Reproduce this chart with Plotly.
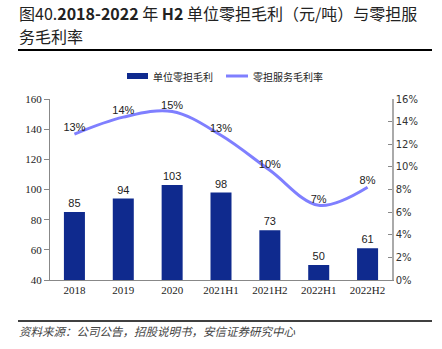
import plotly.graph_objects as go

categories = ["2018", "2019", "2020", "2021H1", "2021H2", "2022H1", "2022H2"]
gross_profit = [85, 94, 103, 98, 73, 50, 61]
margin_pct = [12.9, 14.4, 14.9, 12.8, 9.7, 6.6, 8.2]
margin_labels = ["13%", "14%", "15%", "13%", "10%", "7%", "8%"]
left_ticks = [40, 60, 80, 100, 120, 140, 160]
right_ticks = [0, 2, 4, 6, 8, 10, 12, 14, 16]

BAR = "#0F2A8E"
LINE = "#7F7FFF"
W, H = 442, 349
L, R, T, B = 50, 50, 99, 69
PW, PH = W - L - R, H - T - B

def px(x):
    return (x - L) / PW

def py(y):
    return (H - B - y) / PH

fig = go.Figure()
fig.add_trace(go.Bar(
    x=categories, y=gross_profit, name="单位零担毛利",
    marker=dict(color=BAR, line=dict(width=0)), width=0.43,
    text=[str(v) for v in gross_profit], textposition="outside",
    textfont=dict(family="Liberation Sans, Arial", size=11, color="#222"),
    cliponaxis=False,
))
fig.add_trace(go.Scatter(
    x=categories, y=margin_pct, name="零担服务毛利率", yaxis="y2",
    mode="lines+text", line=dict(color=LINE, width=3, shape="spline", smoothing=1.0),
    text=margin_labels, textposition="top center",
    textfont=dict(family="Liberation Sans, Arial", size=11, color="#222"),
    cliponaxis=False,
))

fig.update_layout(
    width=W, height=H, margin=dict(l=L, r=R, t=T, b=B),
    paper_bgcolor="white", plot_bgcolor="white",
    showlegend=False, bargap=0.57,
    xaxis=dict(
        showline=True, linecolor="#888", linewidth=1, ticks="", showgrid=False,
        tickfont=dict(family="Liberation Serif, Times New Roman", size=11, color="#222"),
    ),
    yaxis=dict(
        range=[40, 160], tickvals=left_ticks, showline=True, linecolor="#888", linewidth=1,
        ticks="outside", ticklen=5, tickcolor="#888", showgrid=False, zeroline=False,
        tickfont=dict(family="Liberation Serif, Times New Roman", size=11, color="#222"),
    ),
    yaxis2=dict(
        range=[0, 16], tickvals=right_ticks, ticktext=[f"{v}%" for v in right_ticks],
        overlaying="y", side="right", showline=True, linecolor="#aaa", linewidth=1.5,
        ticks="inside", ticklen=4, tickcolor="#888", showgrid=False, zeroline=False,
        tickfont=dict(family="DejaVu Sans, Verdana", size=10, color="#333"),
    ),
)

shapes = [
    dict(type="line", xref="paper", yref="paper", x0=px(18), x1=px(432), y0=py(50), y1=py(50),
         line=dict(color="black", width=2)),
    dict(type="line", xref="paper", yref="paper", x0=px(18), x1=px(432), y0=py(321), y1=py(321),
         line=dict(color="black", width=1.5)),
    dict(type="rect", xref="paper", yref="paper", x0=px(127), x1=px(148), y0=py(73), y1=py(79),
         fillcolor=BAR, line=dict(width=0)),
    dict(type="line", xref="paper", yref="paper", x0=px(226), x1=px(248), y0=py(76), y1=py(76),
         line=dict(color=LINE, width=3)),
]
fig.update_layout(shapes=shapes)

cjk = "Noto Sans CJK SC"
anns = [
    dict(x=px(17), y=py(13), xref="paper", yref="paper", xanchor="left", yanchor="middle",
         showarrow=False, font=dict(family=cjk, size=16, color="#222"),
         text="图40.<b>2018-2022</b> 年 <b>H2</b> 单位零担毛利（元/吨）与零担服"),
    dict(x=px(17), y=py(36), xref="paper", yref="paper", xanchor="left", yanchor="middle",
         showarrow=False, font=dict(family=cjk, size=16, color="#222"),
         text="务毛利率"),
    dict(x=px(151), y=py(76), xref="paper", yref="paper", xanchor="left", yanchor="middle",
         showarrow=False, font=dict(family=cjk, size=10, color="#222"), text="单位零担毛利"),
    dict(x=px(251), y=py(76), xref="paper", yref="paper", xanchor="left", yanchor="middle",
         showarrow=False, font=dict(family=cjk, size=10, color="#222"), text="零担服务毛利率"),
    dict(x=px(17), y=py(331), xref="paper", yref="paper", xanchor="left", yanchor="middle",
         showarrow=False, font=dict(family=cjk, size=11.5, color="#444"),
         text="<i>资料来源：公司公告，招股说明书，安信证券研究中心</i>"),
]
fig.update_layout(annotations=anns)

fig.write_html("out.html")
